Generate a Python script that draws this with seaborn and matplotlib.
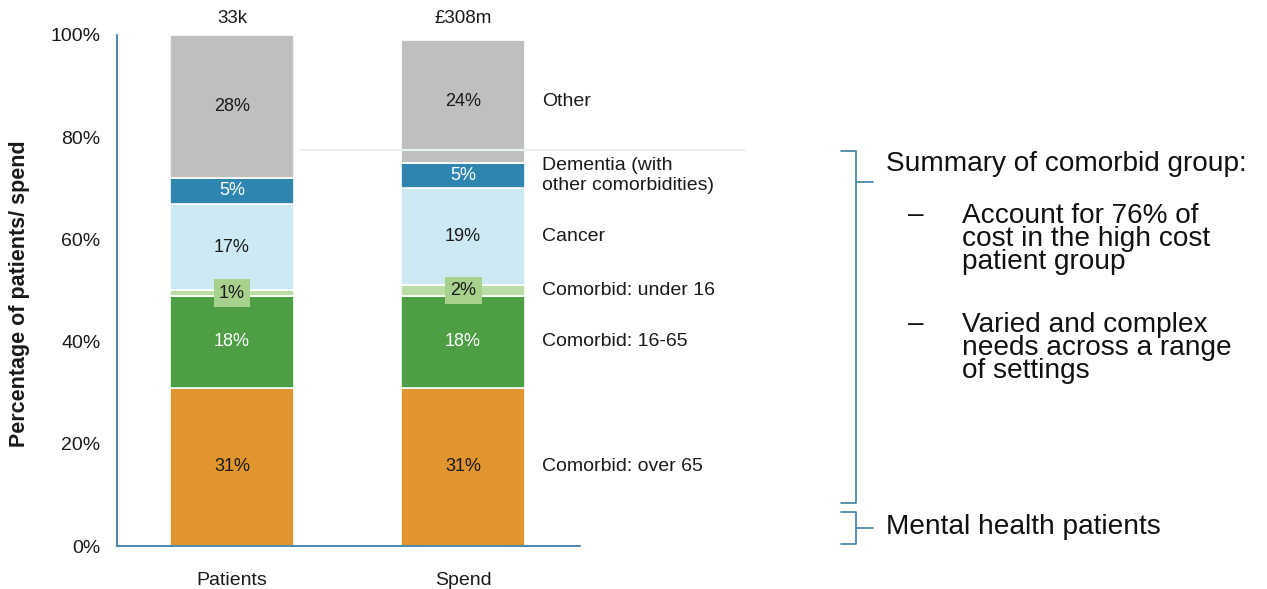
import matplotlib
matplotlib.use("Agg")
import matplotlib.pyplot as plt
import seaborn as sns
import numpy as np

# ---- data ----
categories = ["Patients", "Spend"]
totals = ["33k", "£308m"]
segments = ["Comorbid: over 65", "Comorbid: 16-65", "Comorbid: under 16",
            "Cancer", "Dementia (with\nother comorbidities)", "Other"]
patients_pct = [31, 18, 1, 17, 5, 28]
spend_pct = [31, 18, 2, 19, 5, 24]
yticks = [0, 20, 40, 60, 80, 100]

colors = ["#E0952E", "#4E9E45", "#B9DDA5", "#CDE9F3", "#2E86B0", "#BFBFBF"]
text_colors = ["#1a1a1a", "white", "#1a1a1a", "#1a1a1a", "white", "#1a1a1a"]

sns.set_theme(style="white")
plt.rcParams["font.family"] = ["Liberation Sans", "DejaVu Sans"]

fig = plt.figure(figsize=(12.67, 5.89), dpi=100)
ax = fig.add_axes([0.0923, 0.0730, 0.3655, 0.8676])

values = np.array([patients_pct, spend_pct], dtype=float).T  # segments x categories
bottoms = np.vstack([np.zeros(2), np.cumsum(values, axis=0)[:-1]])
bar_w = 0.54

for i, seg in enumerate(segments):
    sns.barplot(x=categories, y=values[i], bottom=bottoms[i], color=colors[i],
                saturation=1, width=bar_w, errorbar=None, edgecolor="white",
                linewidth=1.2, ax=ax)

# value labels inside segments
for i in range(len(segments)):
    for j in range(len(categories)):
        v = values[i, j]
        yc = bottoms[i, j] + v / 2
        kw = {}
        if v < 3:
            kw["bbox"] = dict(boxstyle="square,pad=0.3", facecolor="#A9D18E",
                              edgecolor="none")
        ax.text(j, yc, f"{int(v)}%", ha="center", va="center", fontsize=13,
                color=text_colors[i], **kw)

# totals above bars
for j, t in enumerate(totals):
    ax.text(j, 101.5, t, ha="center", va="bottom", fontsize=13.5,
            color="#1a1a1a", clip_on=False)

# segment names beside the Spend bar
for i, seg in enumerate(segments):
    yc = bottoms[i, 1] + values[i, 1] / 2
    ax.text(1.34, yc, seg, ha="left", va="center", fontsize=14,
            color="#1a1a1a", linespacing=1.3, clip_on=False)

ax.set_xlim(-0.498, 1.506)
ax.set_ylim(0, 100)
ax.set_yticks(yticks)
ax.set_yticklabels([f"{t}%" for t in yticks], fontsize=14, color="#1a1a1a")
ax.tick_params(axis="x", labelsize=14, colors="#1a1a1a", pad=19, length=0)
ax.tick_params(axis="y", pad=12, length=0)
ax.set_xlabel("")
ax.set_ylabel("")
for s in ["top", "right"]:
    ax.spines[s].set_visible(False)
for s in ["left", "bottom"]:
    ax.spines[s].set_color("#3D7FA6")
    ax.spines[s].set_linewidth(1.3)

# figure-pixel helpers
W, H = 1267, 589
def fx(px):
    return px / W
def fy(py):
    return 1 - py / H

fig.text(fx(20), fy(294), "Percentage of patients/ spend", rotation=90,
         fontsize=15.5, fontweight="bold", color="#1a1a1a",
         ha="center", va="center")

# faint connector line
fig.add_artist(plt.Line2D([fx(300), fx(745)], [fy(150), fy(150)],
                          color="#EAF2F7", lw=1.5))

# brackets on the right
bc = "#3D7FA6"
def bracket(top, bottom, mid):
    fig.add_artist(plt.Line2D([fx(841), fx(856), fx(856), fx(841)],
                              [fy(top), fy(top), fy(bottom), fy(bottom)],
                              color=bc, lw=1.2))
    fig.add_artist(plt.Line2D([fx(856), fx(873)], [fy(mid), fy(mid)],
                              color=bc, lw=1.2))

bracket(151, 503, 182)
bracket(512, 544, 528)

fs_r = 20.2
fig.text(fx(886), fy(164), "Summary of comorbid group:", fontsize=fs_r,
         ha="left", va="center", color="#111111")
fig.text(fx(908), fy(215), "–", fontsize=fs_r, ha="left", va="center", color="#111111")
fig.text(fx(962), fy(239), "Account for 76% of\ncost in the high cost\npatient group",
         fontsize=fs_r, ha="left", va="center", color="#111111", linespacing=0.87)
fig.text(fx(908), fy(324), "–", fontsize=fs_r, ha="left", va="center", color="#111111")
fig.text(fx(962), fy(348), "Varied and complex\nneeds across a range\nof settings",
         fontsize=fs_r, ha="left", va="center", color="#111111", linespacing=0.87)
fig.text(fx(886), fy(527), "Mental health patients", fontsize=fs_r,
         ha="left", va="center", color="#111111")

fig.savefig("out.png", dpi=100)
